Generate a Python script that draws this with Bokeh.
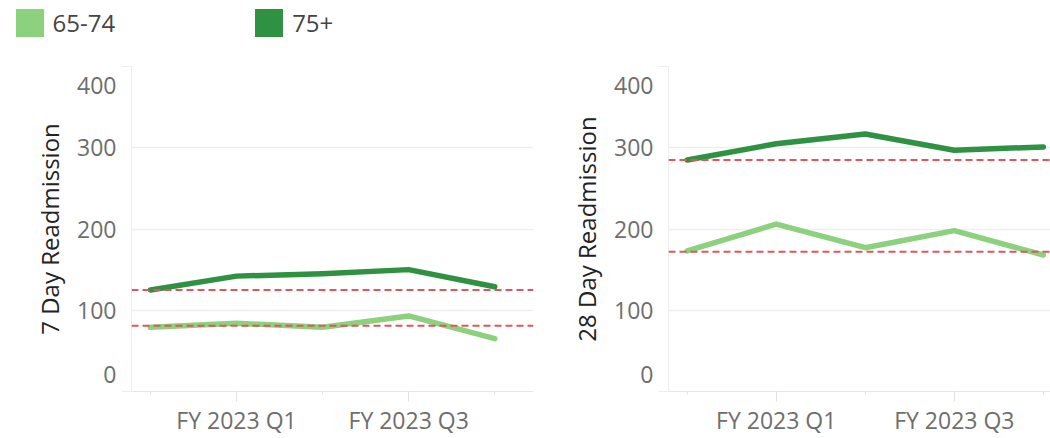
from bokeh.plotting import figure
from bokeh.models import FixedTicker, Span, Legend, LegendItem
from bokeh.layouts import column, row
from bokeh.embed import file_html
from bokeh.resources import INLINE

quarters = ["FY 2022 Q4", "FY 2023 Q1", "FY 2023 Q2", "FY 2023 Q3", "FY 2023 Q4"]
labeled_quarters = ["FY 2023 Q1", "FY 2023 Q3"]
series = ["65-74", "75+"]
colors = ["#8cd17d", "#2f9142"]

day7_65_74 = [79, 84, 79, 93, 65]
day7_75 = [125, 142, 145, 150, 129]
day7_ref = [81, 125]

day28_65_74 = [173, 206, 177, 198, 168]
day28_75 = [285, 305, 317, 297, 301]
day28_ref = [172, 285]

y_ticks = [0, 100, 200, 300, 400]

FONT = "Open Sans"
TICK_COLOR = "#6e6e6e"
FRAME_H = 326          # plot-area height in px
EDGE_NUDGE = (17, 19)  # px that the end tick labels sit inside the plot area


def make_chart(title, low, high, refs, width, border_left, border_right, x_range):
    p = figure(width=width, height=380, x_range=x_range, y_range=(y_ticks[0], y_ticks[-1]),
               output_backend="svg", toolbar_location=None,
               min_border_left=border_left, min_border_right=border_right,
               min_border_top=8, min_border_bottom=0)
    p.outline_line_color = None
    p.xgrid.grid_line_color = None
    p.ygrid.ticker = FixedTicker(ticks=y_ticks)
    p.ygrid.grid_line_color = "#efefef"
    p.ygrid.grid_line_width = 1.5

    # y axis: end labels are nudged inside the plot area like the original
    span = y_ticks[-1] - y_ticks[0]
    lab_pos = ([round(y_ticks[0] + EDGE_NUDGE[0] * span / FRAME_H, 3)] + y_ticks[1:-1]
               + [round(y_ticks[-1] - EDGE_NUDGE[1] * span / FRAME_H, 3)])
    p.yaxis.ticker = FixedTicker(ticks=lab_pos, minor_ticks=[y_ticks[0], y_ticks[-1]])
    p.yaxis.major_label_overrides = {pos: str(v) for pos, v in zip(lab_pos, y_ticks)}
    p.yaxis.axis_line_color = "#ededed"
    p.yaxis.major_tick_out = 0
    p.yaxis.major_tick_in = 0
    p.yaxis.minor_tick_out = 10
    p.yaxis.minor_tick_in = 0
    p.yaxis.minor_tick_line_color = "#ededed"
    p.yaxis.major_label_standoff = 5
    p.yaxis.major_label_text_font = FONT
    p.yaxis.major_label_text_font_size = "23px"
    p.yaxis.major_label_text_color = TICK_COLOR
    p.yaxis.axis_label = title
    p.yaxis.axis_label_text_font = FONT
    p.yaxis.axis_label_text_font_size = "24px"
    p.yaxis.axis_label_text_font_style = "normal"
    p.yaxis.axis_label_text_color = "#222222"
    p.yaxis.axis_label_standoff = 8

    # x axis
    xs = list(range(len(quarters)))
    lab_idx = [quarters.index(q) for q in labeled_quarters]
    p.xaxis.ticker = FixedTicker(ticks=lab_idx, minor_ticks=xs)
    p.xaxis.major_label_overrides = {i: quarters[i] for i in lab_idx}
    p.xaxis.axis_line_color = "#e6e6e6"
    p.xaxis.major_tick_out = 10
    p.xaxis.major_tick_in = 0
    p.xaxis.minor_tick_out = 3
    p.xaxis.minor_tick_in = 0
    p.xaxis.major_tick_line_color = "#e3e3e3"
    p.xaxis.minor_tick_line_color = "#e3e3e3"
    p.xaxis.major_label_standoff = 2
    p.xaxis.major_label_text_font = FONT
    p.xaxis.major_label_text_font_size = "23px"
    p.xaxis.major_label_text_color = TICK_COLOR

    p.line(xs, low, line_color=colors[0], line_width=5.5, line_cap="round", line_join="round")
    p.line(xs, high, line_color=colors[1], line_width=5.5, line_cap="round", line_join="round")

    for r in refs:
        p.add_layout(Span(location=r, dimension="width", line_color="#e15759",
                          line_width=2, line_dash="7 4"))
    return p


p1 = make_chart("7 Day Readmission", day7_65_74, day7_75, day7_ref, 540, 131, 7, (-0.22, 4.45))
p2 = make_chart("28 Day Readmission", day28_65_74, day28_75, day28_ref, 510, 128, 0, (-0.21, 4.08))

# legend strip
lf = figure(width=1050, height=58, output_backend="svg", toolbar_location=None,
            min_border=0, x_axis_location=None, y_axis_location=None,
            x_range=(0, 1), y_range=(0, 1))
lf.outline_line_color = None
lf.grid.visible = False
items = []
for name, c in zip(series, colors):
    # off-range stand-in glyph so the legend has a swatch to draw
    r = lf.vbar(x=[-5], top=[-5], bottom=[-6], width=1, fill_color=c, line_color=None)
    items.append(LegendItem(label=name, renderers=[r]))
leg = Legend(items=items, orientation="horizontal", location=(11.5, 18.5),
             glyph_width=35, glyph_height=35, label_standoff=6, spacing=136,
             padding=0, margin=0, border_line_color=None, background_fill_alpha=0,
             label_text_font=FONT, label_text_font_size="24px", label_text_color="#444444")
lf.add_layout(leg)

layout = column(lf, row(p1, p2))
open("out.html", "w").write(file_html(layout, INLINE))
